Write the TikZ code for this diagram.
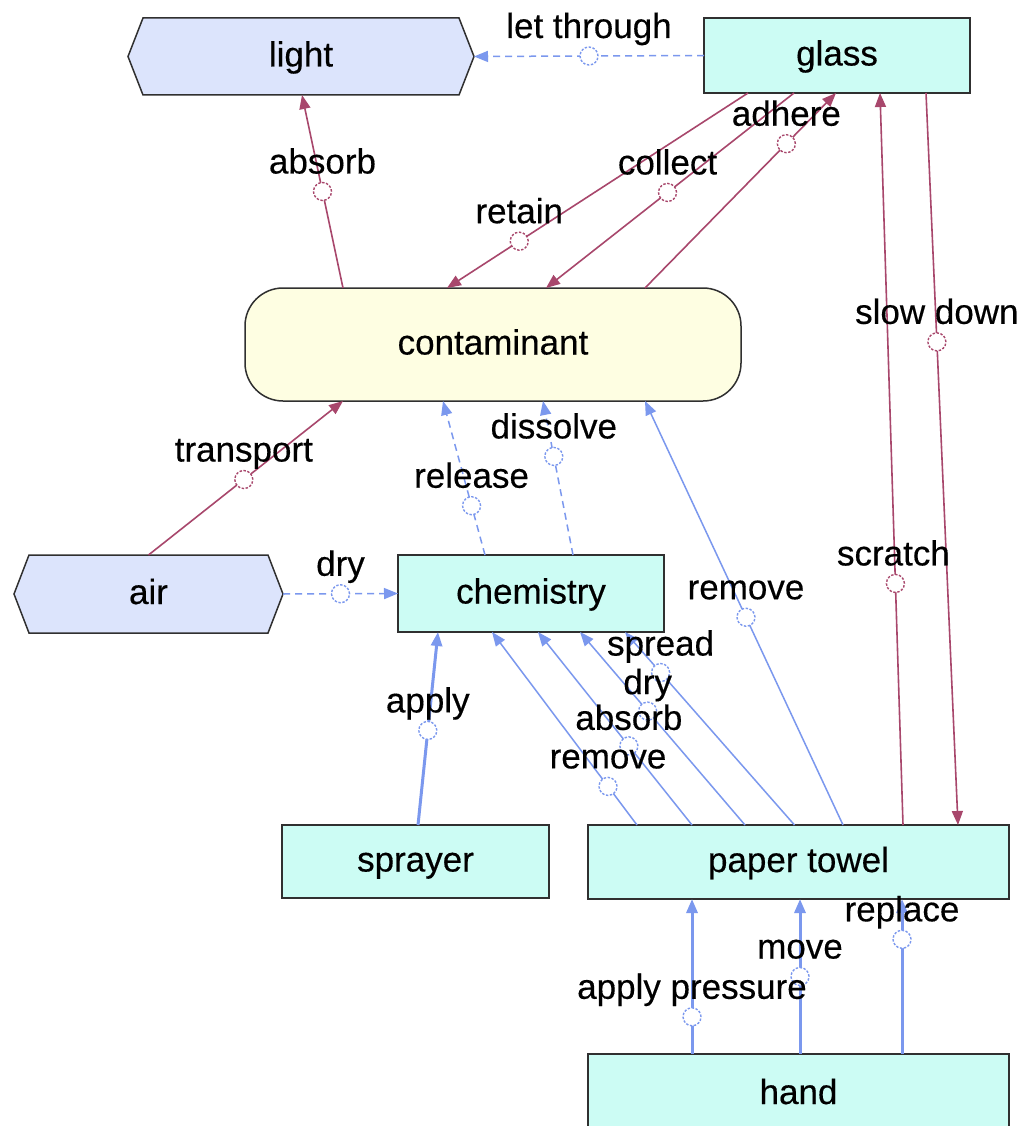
\documentclass[tikz,border=0pt]{standalone}
\usepackage{fontspec}
\setmainfont{Liberation Sans}
\newfontfamily\diagramfont{Liberation Sans}[FakeBold=0.35]
\usetikzlibrary{arrows.meta,backgrounds}
\definecolor{linkblue}{HTML}{7B98EE}
\definecolor{linkred}{HTML}{A8476C}
\definecolor{hexfill}{HTML}{DCE4FC}
\definecolor{cyanfill}{HTML}{CCFCF4}
\definecolor{creamfill}{HTML}{FEFEE2}
\definecolor{border}{HTML}{303030}
\begin{document}
\begin{tikzpicture}[x=1pt,y=-1pt,
  txt/.style={font=\diagramfont\fontsize{35}{40}\selectfont},
  box/.style={txt, inner sep=0pt, outer sep=0pt, text height=20pt, text depth=0pt},
  cyanbox/.style={box, draw=border, line width=1.5pt, fill=cyanfill},
  creambox/.style={box, draw=border, line width=1.5pt, fill=creamfill, rounded corners=38pt},
  hexbox/.style={box},
  hexline/.style={draw=border, line width=1.5pt, fill=hexfill},
  tip/.style={-{Triangle[length=14pt,width=11pt]}},
  blueline/.style={draw=linkblue, line width=1.5pt, tip},
  bluedash/.style={blueline, dash pattern=on 7pt off 5pt},
  bluethick/.style={blueline, line width=3pt},
  redline/.style={draw=linkred, line width=1.6pt, tip},
  circ/.style={circle, minimum size=18pt, inner sep=0pt, fill=white, line width=1.4pt, dash pattern=on 2.4pt off 1.6pt},
  bcirc/.style={circ, draw=linkblue},
  rcirc/.style={circ, draw=linkred},
  lab/.style={txt, anchor=base, inner sep=0pt},
]
\useasboundingbox (0,0) rectangle (1023,1126);

% entities
\node[hexbox, minimum width=346pt, minimum height=77pt] (light) at (301,56.5) {light};
\node[cyanbox, minimum width=266pt, minimum height=75pt] (glass) at (837,55.5) {glass};
\node[creambox, minimum width=496pt, minimum height=113pt] (contaminant) at (493,344.5) {contaminant};
\node[hexbox, minimum width=269pt, minimum height=78pt] (air) at (148.5,594) {air};
\node[cyanbox, minimum width=266pt, minimum height=77pt] (chemistry) at (531,593.5) {chemistry};
\node[cyanbox, minimum width=267pt, minimum height=73pt] (sprayer) at (415.5,861.5) {sprayer};
\node[cyanbox, minimum width=421pt, minimum height=74pt] (ptowel) at (798.5,862) {paper towel};
\node[cyanbox, minimum width=421pt, minimum height=80pt] (hand) at (798.5,1094) {hand};

% hexagonal outlines behind the text
\begin{scope}[on background layer]
  \fill[white] (0,0) rectangle (1023,1126);
  \foreach \n in {light,air}{
    \path[hexline] (\n.west) -- ([xshift=15pt]\n.north west) -- ([xshift=-15pt]\n.north east)
      -- (\n.east) -- ([xshift=-15pt]\n.south east) -- ([xshift=15pt]\n.south west) -- cycle;
  }
\end{scope}

% relations
\draw[bluedash] (glass.west) -- (light.east) node[pos=.5, bcirc] (cLet) {};
\draw[redline] ([xshift=-150pt]contaminant.north) -- ([xshift=1pt]light.south) node[pos=.5, rcirc] (cAbsorbLight) {};
\draw[redline] ([xshift=-89pt]glass.south) -- ([xshift=-46pt]contaminant.north) node[pos=.76, rcirc] (cRetain) {};
\draw[redline] ([xshift=-43pt]glass.south) -- ([xshift=53pt]contaminant.north) node[pos=.51, rcirc] (cCollect) {};
\draw[redline] ([xshift=152pt]contaminant.north) -- ([xshift=-1pt]glass.south) node[pos=.74, rcirc] (cAdhere) {};
\draw[redline] ([xshift=89pt]glass.south) -- ([xshift=159.5pt]ptowel.north) node[pos=.34, rcirc] (cSlow) {};
\draw[redline] ([xshift=104.5pt]ptowel.north) -- ([xshift=43pt]glass.south) node[pos=.33, rcirc] (cScratch) {};
\draw[redline] (air.north) -- ([xshift=-150pt]contaminant.south) node[pos=.49, rcirc] (cTransport) {};
\draw[bluedash] (air.east) -- (chemistry.west) node[pos=.5, bcirc] (cDryAir) {};
\draw[bluedash] ([xshift=-46pt]chemistry.north) -- ([xshift=-50pt]contaminant.south) node[pos=.32, bcirc] (cRelease) {};
\draw[bluedash] ([xshift=42pt]chemistry.north) -- ([xshift=50pt]contaminant.south) node[pos=.64, bcirc] (cDissolve) {};
\draw[blueline] ([xshift=44.5pt]ptowel.north) -- ([xshift=152pt]contaminant.south) node[pos=.49, bcirc] (cRemoveCont) {};
\draw[bluethick] ([xshift=2.5pt]sprayer.north) -- ([xshift=-93pt]chemistry.south) node[pos=.49, bcirc] (cApply) {};
\draw[blueline] ([xshift=-161.5pt]ptowel.north) -- ([xshift=-39pt]chemistry.south) node[pos=.2, bcirc] (cRemoveChem) {};
\draw[blueline] ([xshift=-106.5pt]ptowel.north) -- ([xshift=7pt]chemistry.south) node[pos=.41, bcirc] (cAbsorbChem) {};
\draw[blueline] ([xshift=-53.5pt]ptowel.north) -- ([xshift=49pt]chemistry.south) node[pos=.59, bcirc] (cDryChem) {};
\draw[blueline] ([xshift=-4pt]ptowel.north) -- ([xshift=94pt]chemistry.south) node[pos=.79, bcirc] (cSpread) {};
\draw[bluethick] ([xshift=-106.5pt]hand.north) -- ([xshift=-106.5pt]ptowel.south) node[pos=.24, bcirc] (cPressure) {};
\draw[bluethick] ([xshift=1.5pt]hand.north) -- ([xshift=1.5pt]ptowel.south) node[pos=.5, bcirc] (cMove) {};
\draw[bluethick] ([xshift=103.5pt]hand.north) -- ([xshift=103.5pt]ptowel.south) node[pos=.74, bcirc] (cReplace) {};

% relation names
\node[lab] (tLet) at ([yshift=18pt]cLet) {let through};
\node[lab] (tAbsorbLight) at ([yshift=18pt]cAbsorbLight) {absorb};
\node[lab] (tRetain) at ([yshift=18pt]cRetain) {retain};
\node[lab] (tCollect) at ([yshift=18pt]cCollect) {collect};
\node[lab] (tAdhere) at ([yshift=18pt]cAdhere) {adhere};
\node[lab] (tSlow) at ([yshift=18pt]cSlow) {slow down};
\node[lab] (tScratch) at ([xshift=-2pt,yshift=18pt]cScratch) {scratch};
\node[lab] (tTransport) at ([yshift=18pt]cTransport) {transport};
\node[lab] (tDryAir) at ([yshift=18pt]cDryAir) {dry};
\node[lab] (tRelease) at ([yshift=18pt]cRelease) {release};
\node[lab] (tDissolve) at ([yshift=18pt]cDissolve) {dissolve};
\node[lab] (tRemoveCont) at ([yshift=18pt]cRemoveCont) {remove};
\node[lab] (tApply) at ([yshift=18pt]cApply) {apply};
\node[lab] (tRemoveChem) at ([yshift=18pt]cRemoveChem) {remove};
\node[lab] (tAbsorbChem) at ([yshift=16pt]cAbsorbChem) {absorb};
\node[lab] (tDryChem) at ([yshift=17pt]cDryChem) {dry};
\node[lab] (tSpread) at ([yshift=17pt]cSpread) {spread};
\node[lab] (tPressure) at ([yshift=18pt]cPressure) {apply pressure};
\node[lab] (tMove) at ([yshift=18pt]cMove) {move};
\node[lab] (tReplace) at ([yshift=18pt]cReplace) {replace};
\end{tikzpicture}
\end{document}
